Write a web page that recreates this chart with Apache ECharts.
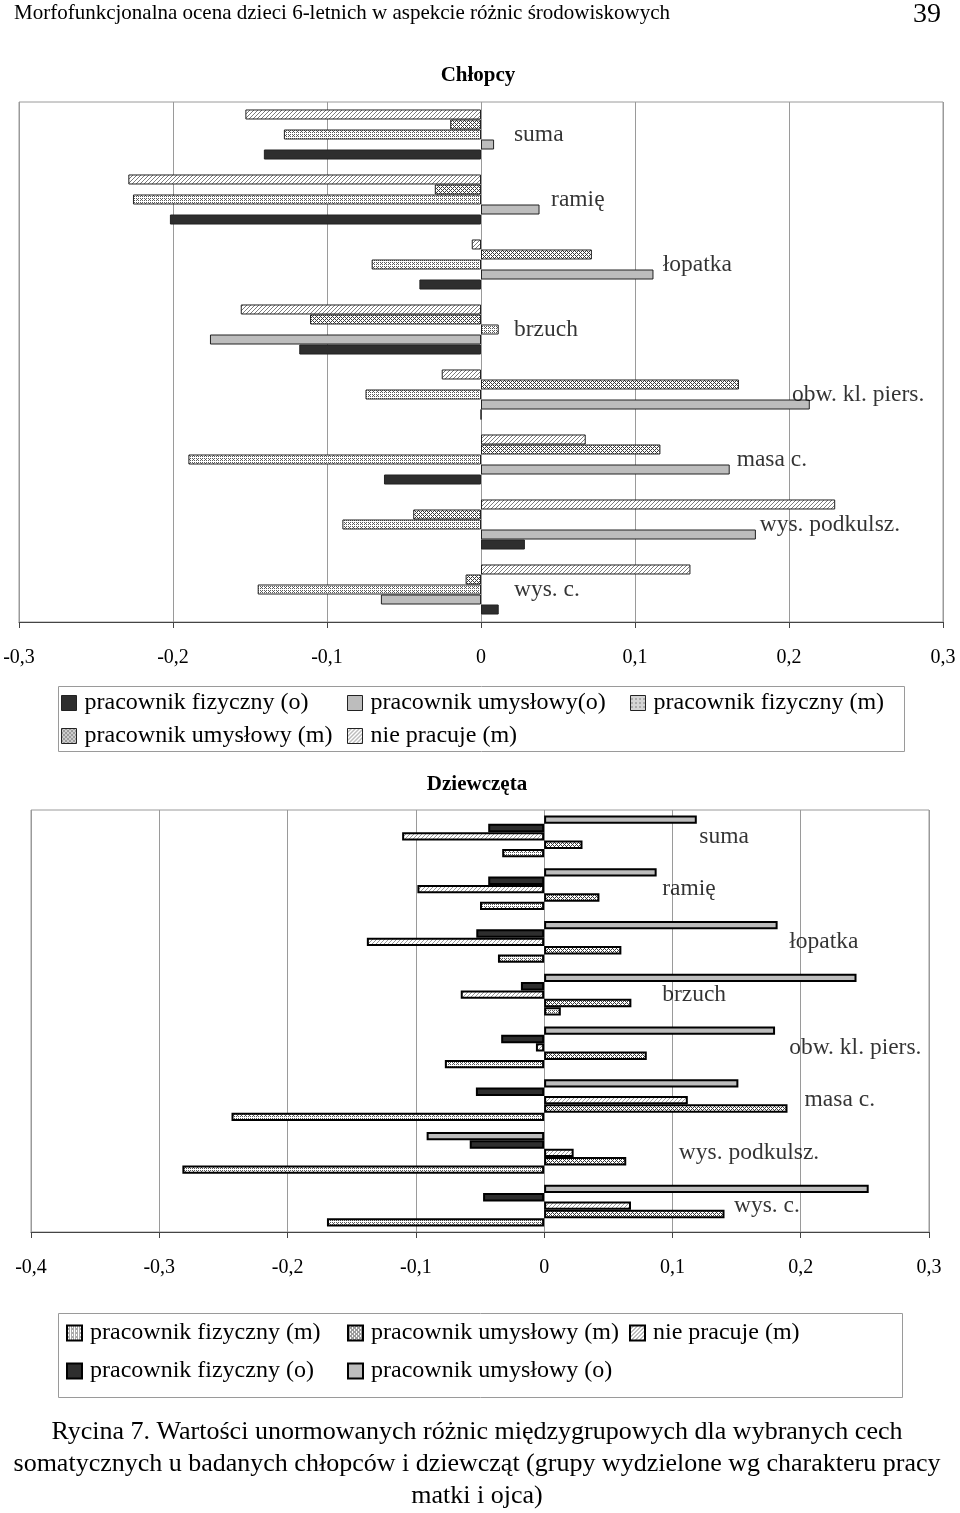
<!DOCTYPE html>
<html><head><meta charset="utf-8">
<script src="https://cdn.jsdelivr.net/npm/echarts@6/dist/echarts.min.js"></script>
<style>html,body{margin:0;padding:0;background:#fff}#c{width:960px;height:1513px}</style>
</head><body><div id="c"></div>
<script>
// ---------- data ----------
const categories = ['suma', 'ramię', 'łopatka', 'brzuch', 'obw. kl. piers.', 'masa c.', 'wys. podkulsz.', 'wys. c.'];

// Chłopcy
const boysNiePracujeM  = [-0.153, -0.229, -0.006, -0.156, -0.0255, 0.068, 0.230, 0.136];
const boysUmyslowyM    = [-0.020, -0.030, 0.072, -0.111, 0.1675, 0.1165, -0.044, -0.010];
const boysFizycznyM    = [-0.128, -0.226, -0.071, 0.0115, -0.075, -0.190, -0.090, -0.145];
const boysUmyslowyO    = [0.0085, 0.038, 0.112, -0.176, 0.2135, 0.1615, 0.1785, -0.065];
const boysFizycznyO    = [-0.141, -0.202, -0.040, -0.118, 0, -0.063, 0.0285, 0.0115];
const boysLabelAt      = [0.0214, 0.0455, 0.118, 0.0214, 0.202, 0.166, 0.181, 0.0214];
const boysAxis = { min: -0.3, max: 0.3, step: 0.1 };

// Dziewczęta
const girlsUmyslowyO   = [0.119, 0.0877, 0.182, 0.2435, 0.180, 0.1514, -0.0916, 0.253];
const girlsFizycznyO   = [-0.0436, -0.0436, -0.0529, -0.0181, -0.0335, -0.0532, -0.058, -0.0476];
const girlsNiePracujeM = [-0.1107, -0.0988, -0.1382, -0.065, -0.0064, 0.112, 0.023, 0.0677];
const girlsUmyslowyM   = [0.0299, 0.0431, 0.0602, 0.068, 0.080, 0.1897, 0.064, 0.1406];
const girlsFizycznyM   = [-0.0327, -0.050, -0.036, 0.013, -0.0774, -0.2437, -0.282, -0.1693];
const girlsLabelAt     = [0.121, 0.092, 0.191, 0.092, 0.191, 0.203, 0.105, 0.148];
const girlsAxis = { min: -0.4, max: 0.3, step: 0.1 };

const headerText = 'Morfofunkcjonalna ocena dzieci 6-letnich w aspekcie różnic środowiskowych';
const pageNumber = '39';
const boysTitle = 'Chłopcy';
const girlsTitle = 'Dziewczęta';
const captionLines = [
  'Rycina 7. Wartości unormowanych różnic międzygrupowych dla wybranych cech',
  'somatycznych u badanych chłopców i dziewcząt (grupy wydzielone wg charakteru pracy',
  'matki i ojca)'
];
const NAME_PFO = 'pracownik fizyczny (o)';
const NAME_PUO_B = 'pracownik umysłowy(o)';
const NAME_PUO_G = 'pracownik umysłowy (o)';
const NAME_PFM = 'pracownik fizyczny (m)';
const NAME_PUM = 'pracownik umysłowy (m)';
const NAME_NPM = 'nie pracuje (m)';

// ---------- patterns ----------
function pattern(size, fg, fn) {
  const c = document.createElement('canvas');
  c.width = size; c.height = size;
  const ctx = c.getContext('2d');
  ctx.fillStyle = '#fff'; ctx.fillRect(0, 0, size, size);
  ctx.fillStyle = fg;
  for (let y = 0; y < size; y++) for (let x = 0; x < size; x++) if (fn(x, y)) ctx.fillRect(x, y, 1, 1);
  return { image: c, repeat: 'repeat' };
}
const patDots  = pattern(4, '#585858', (x, y) => (x % 2 === 0 && y % 2 === 0) || (x === 1 && y === 3));
const patCross = pattern(4, '#3a3a3a', (x, y) => (x + y) % 4 === 0 || (x - y + 8) % 4 === 0);
const patDiag  = pattern(4, '#7a7a7a', (x, y) => (x + y) % 4 === 3);
const patDiagL = pattern(4, '#9a9a9a', (x, y) => (x + y) % 4 === 3);
const colDark = '#2e2e2e';
const colGray = '#bdbdbd';

const FONT = '"Liberation Serif", "Times New Roman", serif';
const tickFmt = v => String(Math.round(v * 10) / 10).replace('.', ',');

function bar(name, data, color, idx, border, bw, gap) {
  return {
    type: 'bar', name, data, xAxisIndex: idx, yAxisIndex: idx,
    barGap: '0%', barCategoryGap: gap,
    itemStyle: { color, borderColor: border, borderWidth: bw },
    emphasis: { disabled: true }, silent: true
  };
}
function labelSeries(idx, at) {
  return {
    type: 'scatter', xAxisIndex: idx, yAxisIndex: idx, symbolSize: 0, silent: true, z: 10,
    itemStyle: { color: 'transparent' },
    data: categories.map((c, i) => [at[i], c]),
    label: { show: true, position: 'right', distance: 0, formatter: p => p.value[1],
      fontFamily: FONT, fontSize: 23.5, color: '#000' }
  };
}
function xAxis(idx, ax) {
  return {
    gridIndex: idx, type: 'value', min: ax.min, max: ax.max, interval: ax.step, position: 'bottom',
    axisLine: { show: true, onZero: false, lineStyle: { color: '#444', width: 1 } },
    axisTick: { show: true, length: 6, lineStyle: { color: '#444' } },
    axisLabel: { margin: 26, formatter: tickFmt, fontFamily: FONT, fontSize: 20, color: '#000' },
    splitLine: { show: true, lineStyle: { color: '#9a9a9a', width: 1 } }
  };
}
function yAxis(idx) {
  return {
    gridIndex: idx, type: 'category', data: categories, inverse: true,
    axisLine: { show: false }, axisTick: { show: false }, axisLabel: { show: false }, splitLine: { show: false }
  };
}
function leg(name, left, centerY, bw) {
  return {
    data: [name], left, top: centerY - 12, padding: 0, itemGap: 0, icon: 'rect',
    itemWidth: 15, itemHeight: 15, selectedMode: false,
    itemStyle: { borderWidth: bw, borderColor: bw > 1 ? '#000' : '#222' },
    textStyle: { fontFamily: FONT, fontSize: 24, color: '#000', padding: [0, 0, 0, 3] }
  };
}
function txt(text, x, y, size, align, weight) {
  return { type: 'text', x, y, silent: true,
    style: { text, font: (weight || 'normal') + ' ' + size + 'px ' + FONT, fill: '#000',
      align: align, verticalAlign: 'middle', textAlign: align, textVerticalAlign: 'middle' } };
}

const option = {
  animation: false,
  backgroundColor: '#fff',
  grid: [
    { left: 19, top: 102, width: 924, height: 520, show: true, borderColor: '#9a9a9a', borderWidth: 1, backgroundColor: 'transparent' },
    { left: 31, top: 810, width: 898, height: 422, show: true, borderColor: '#9a9a9a', borderWidth: 1, backgroundColor: 'transparent' }
  ],
  xAxis: [xAxis(0, boysAxis), xAxis(1, girlsAxis)],
  yAxis: [yAxis(0), yAxis(1)],
  legend: [
    leg(NAME_PFO, 61, 703, 1), leg(NAME_PUO_B, 347, 703, 1), leg(NAME_PFM, 630, 703, 1),
    leg(NAME_PUM, 61, 736, 1), leg(NAME_NPM, 347, 736, 1),
    leg(NAME_PFM, 66, 1333, 2), leg(NAME_PUM, 347, 1333, 2), leg(NAME_NPM, 629, 1333, 2),
    leg(NAME_PFO, 66, 1371, 2), leg(NAME_PUO_G, 347, 1371, 2)
  ],
  series: [
    bar(NAME_NPM, boysNiePracujeM, patDiag, 0, '#222', 1, '23%'),
    bar(NAME_PUM, boysUmyslowyM, patCross, 0, '#222', 1, '23%'),
    bar(NAME_PFM, boysFizycznyM, patDots, 0, '#222', 1, '23%'),
    bar(NAME_PUO_B, boysUmyslowyO, colGray, 0, '#222', 1, '23%'),
    bar(NAME_PFO, boysFizycznyO, colDark, 0, '#222', 1, '23%'),
    labelSeries(0, boysLabelAt),
    bar(NAME_PUO_G, girlsUmyslowyO, colGray, 1, '#000', 2, '21%'),
    bar(NAME_PFO + ' ', girlsFizycznyO, colDark, 1, '#000', 2, '21%'),
    bar(NAME_NPM + ' ', girlsNiePracujeM, patDiagL, 1, '#000', 2, '21%'),
    bar(NAME_PUM + ' ', girlsUmyslowyM, patCross, 1, '#000', 2, '21%'),
    bar(NAME_PFM + ' ', girlsFizycznyM, patDots, 1, '#000', 2, '21%'),
    labelSeries(1, girlsLabelAt)
  ],
  graphic: [
    { type: 'rect', silent: true, z: -1, shape: { x: 58.5, y: 686.5, width: 846, height: 65 }, style: { fill: '#fff', stroke: '#9a9a9a', lineWidth: 1 } },
    { type: 'rect', silent: true, z: -1, shape: { x: 58.5, y: 1313.5, width: 844, height: 84 }, style: { fill: '#fff', stroke: '#9a9a9a', lineWidth: 1 } },
    txt(headerText, 14, 13, 21, 'left'),
    txt(pageNumber, 941, 15, 28, 'right'),
    txt(boysTitle, 478, 76, 21, 'center', 'bold'),
    txt(girlsTitle, 477, 785, 21, 'center', 'bold'),
    txt(captionLines[0], 477, 1432, 26, 'center'),
    txt(captionLines[1], 477, 1464, 26, 'center'),
    txt(captionLines[2], 477, 1496, 26, 'center')
  ]
};
const chart = echarts.init(document.getElementById('c'), null, { renderer: 'canvas' });
chart.setOption(option);
</script>
</body></html>
